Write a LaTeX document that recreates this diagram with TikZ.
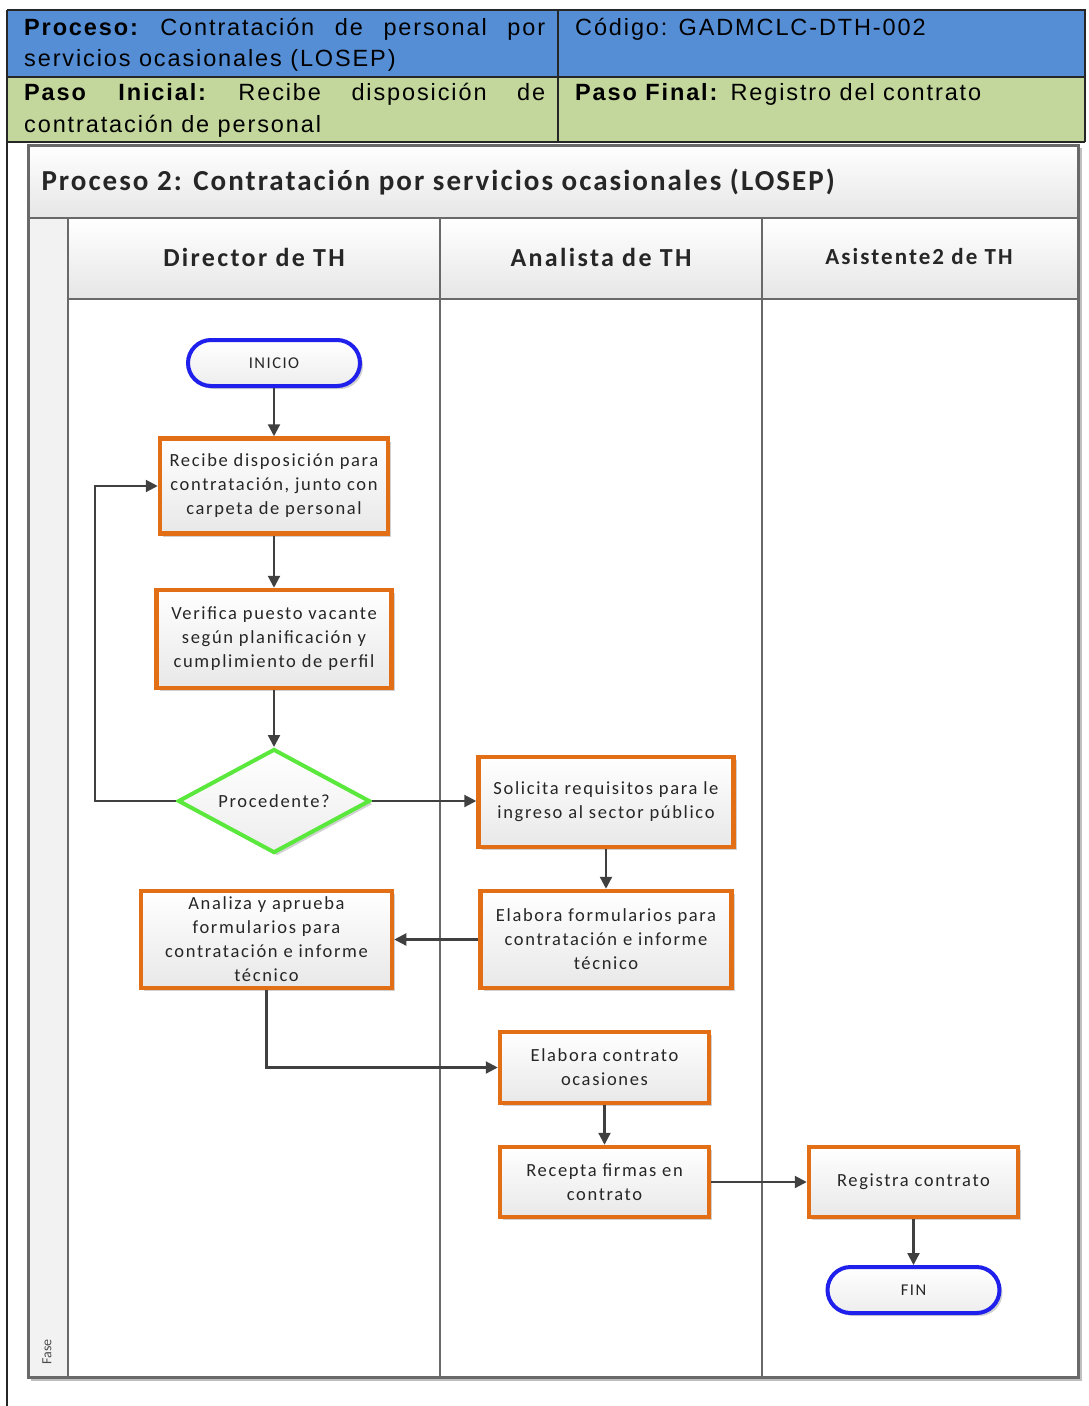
\documentclass[tikz,border=0pt]{standalone}
\usepackage{fontspec}
\setmainfont{Carlito}
\newfontfamily\hdrfont{Liberation Sans}[LetterSpace=8]
\newfontfamily\boxfont{Carlito}[LetterSpace=9]
\newfontfamily\lanefont{Carlito}[LetterSpace=9]
\newfontfamily\titlefont{Carlito}[LetterSpace=7]
\usetikzlibrary{shapes.geometric,arrows.meta,shadows,calc}

\definecolor{hdrblue}{RGB}{85,142,213}
\definecolor{hdrgreen}{RGB}{195,214,155}
\definecolor{boxorange}{RGB}{226,110,22}
\definecolor{decgreen}{RGB}{90,232,60}
\definecolor{termblue}{RGB}{32,32,236}
\definecolor{laneline}{RGB}{105,105,105}
\definecolor{arrowgray}{RGB}{64,64,64}
\definecolor{bandgray}{RGB}{230,230,230}

\begin{document}
\begin{tikzpicture}[x=1pt,y=-1pt,
  boxtext/.style={font=\boxfont\fontsize{18.5}{24}\selectfont, text=black!85, align=center},
  softshadow/.style={drop shadow={shadow xshift=3pt,shadow yshift=-3pt,opacity=0.18,fill=black}},
  stepbox/.style={boxtext, draw=boxorange, line width=4.5pt, top color=white, bottom color=black!9,
    softshadow, inner sep=0pt},
  terminal/.style={boxtext, draw=termblue, line width=4pt, rounded corners=23pt, top color=white,
    bottom color=black!7, softshadow, minimum width=172pt, minimum height=46pt, inner sep=0pt,
    font=\boxfont\fontsize{16.5}{18}\selectfont},
  decision/.style={boxtext, draw=decgreen, line width=4pt, diamond, aspect=1.85, top color=white,
    bottom color=black!7, softshadow, inner sep=0pt, minimum width=192pt, minimum height=104pt},
  flow/.style={draw=arrowgray, line width=2.2pt, -{Triangle[length=12pt,width=12pt]}},
  lane/.style={draw=laneline, line width=2.5pt},
  rule/.style={draw=black!85, line width=2.5pt},
  hdr/.style={font=\hdrfont\fontsize{23.5}{30}\selectfont, anchor=base west, inner sep=0pt},
  lanehead/.style={font=\lanefont\bfseries\fontsize{26}{30}\selectfont, text=black!85}
]
\useasboundingbox (0,0) rectangle (1089,1406);
\fill[white] (0,0) rectangle (1089,1406);

% ---- information table on top ----
\fill[hdrblue] (7,10) rectangle (1085,77);
\fill[hdrgreen] (7,77) rectangle (1085,142);
\draw[rule] (7,10) -- (1085,10) -- (1085,142);
\draw[rule] (7,77) -- (1085,77);
\draw[rule] (7,142) -- (1085,142);
\draw[rule] (558,10) -- (558,142);
\draw[rule] (7,10) -- (7,1406);

\node[hdr] (p1) at (24,35) {\hbox to 521pt{\textbf{Proceso:}\hfill Contratación\hfill de\hfill personal\hfill por}};
\node[hdr] (p2) at (24,66) {servicios ocasionales (LOSEP)};
\node[hdr] (cod) at (575,35) {Código: GADMCLC-DTH-002};
\node[hdr] (i1) at (24,100) {\hbox to 521pt{\textbf{Paso}\hfill\textbf{Inicial:}\hfill Recibe\hfill disposición\hfill de}};
\node[hdr] (i2) at (24,132) {contratación de personal};
\node[hdr] (fi) at (575,100) {\textbf{Paso Final:} Registro del contrato};

% ---- swimlane pool ----
\shade[top color=white, bottom color=bandgray] (28,145) rectangle (1078,218);
\shade[top color=white, bottom color=bandgray] (68,218) rectangle (1078,299);
\fill[black!5] (28,218) rectangle (68,1377);
\draw[lane] (28,218) -- (1078,218);
\draw[lane] (68,299) -- (1078,299);
\draw[lane] (68,218) -- (68,1377);
\draw[lane] (440,218) -- (440,1377);
\draw[lane] (762,218) -- (762,1377);
\draw[lane, line width=3pt] (28,145) rectangle (1078,1377);
\draw[black!25, line width=1.5pt] (31,1380) -- (1081,1380) -- (1081,148);

\node[font=\titlefont\bfseries\fontsize{29}{30}\selectfont, text=black!85, anchor=west] (title) at (38,182)
  {Proceso 2: Contratación por servicios ocasionales (LOSEP)};
\node[lanehead] (l1) at (254,257) {Director de TH};
\node[lanehead] (l2) at (601,257) {Analista de TH};
\node[lanehead, font=\lanefont\bfseries\fontsize{23}{30}\selectfont] (l3) at (919,257) {Asistente2 de TH};
\node[rotate=90, font=\fontsize{14}{16}\selectfont, text=black!70] (fase) at (47,1352) {Fase};

% ---- process steps ----
\node[terminal] (inicio) at (274,363) {INICIO};
\node[stepbox, minimum width=228pt, minimum height=95pt] (recibe) at (274,486)
  {Recibe disposición para\\contratación, junto con\\carpeta de personal};
\node[stepbox, minimum width=235pt, minimum height=98pt] (verifica) at (274,639)
  {Verifica puesto vacante\\según planificación y\\cumplimiento de perfil};
\node[decision] (proc) at (274,801) {Procedente?};
\node[stepbox, minimum width=255pt, minimum height=90pt] (solicita) at (606,802)
  {Solicita requisitos para le\\ingreso al sector público};
\node[stepbox, minimum width=251pt, minimum height=97pt] (elabform) at (606,939.5)
  {Elabora formularios para\\contratación e informe\\técnico};
\node[stepbox, minimum width=251pt, minimum height=97pt] (analiza) at (266.5,939.5)
  {Analiza y aprueba\\formularios para\\contratación e informe\\técnico};
\node[stepbox, minimum width=209pt, minimum height=71pt] (elabcont) at (604.5,1067.5)
  {Elabora contrato\\ocasiones};
\node[stepbox, minimum width=209pt, minimum height=70pt] (recepta) at (604.5,1182)
  {Recepta firmas en\\contrato};
\node[stepbox, minimum width=209pt, minimum height=70pt] (registra) at (913.5,1182)
  {Registra contrato};
\node[terminal] (fin) at (913.5,1290) {FIN};

% ---- connectors ----
\draw[flow] (inicio) -- (recibe);
\draw[flow] (recibe) -- (verifica);
\draw[flow] (verifica) -- (proc);
\draw[flow] (proc.west) -| ([xshift=-63pt]recibe.west) -- (recibe.west);
\draw[flow] (proc.east) -- (proc.east -| solicita.west);
\draw[flow] (solicita) -- (elabform);
\draw[flow] (elabform.west) -- (analiza.east);
\draw[flow] (analiza.south) |- (elabcont.west);
\draw[flow] (elabcont) -- (recepta);
\draw[flow] (recepta.east) -- (registra.west);
\draw[flow] (registra) -- (fin);
\end{tikzpicture}
\end{document}
